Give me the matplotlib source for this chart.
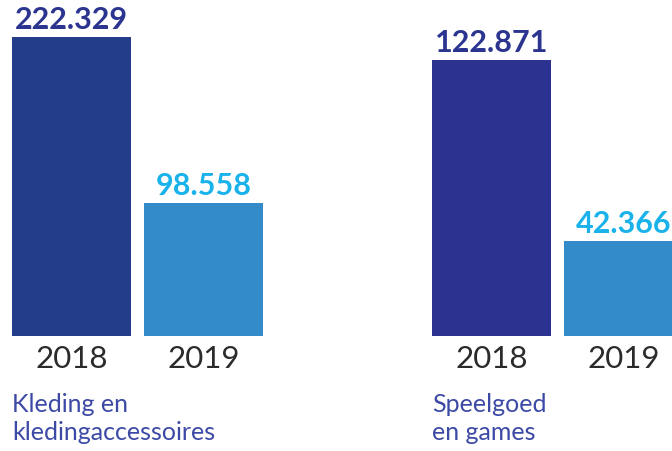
import matplotlib.pyplot as plt

years = ["2018", "2019"]
kleding = [222.329, 98.558]
speelgoed = [122.871, 42.366]
groups = [kleding, speelgoed]
categories = ["Kleding en\nkledingaccessoires", "Speelgoed\nen games"]

bar_colors = [["#243d8a", "#338bca"], ["#2b3290", "#338bca"]]
label_colors = ["#2b3590", "#19b2ea"]

plt.rcParams['font.family'] = ['Lato', 'DejaVu Sans']

W, H = 672, 452
fig = plt.figure(figsize=(W / 100, H / 100), dpi=100)

# axes boxes in pixels: left, bottom-from-top, width, height
boxes = [(12, 337, 251, 299), (432, 337, 251, 276)]

for vals, cat, cols, (x0, yb, w, h) in zip(groups, categories, bar_colors, boxes):
    ax = fig.add_axes([x0 / W, (H - yb) / H, w / W, h / H])
    ax.bar([0, 1], vals, width=119 / 132, color=cols)
    ax.set_xlim(-0.45076, 1.45076)
    ax.set_ylim(0, max(vals))
    for spine in ax.spines.values():
        spine.set_visible(False)
    ax.set_yticks([])
    ax.set_xticks([0, 1])
    ax.set_xticklabels(years, fontsize=22.5, color="#2b2b2b")
    ax.tick_params(axis="x", length=0, pad=6)
    for i, v in enumerate(vals):
        ax.annotate(f"{v:.3f}", (i, v), xytext=(0, 3), textcoords="offset points",
                    ha="center", va="bottom", fontsize=22, fontweight="bold",
                    color=label_colors[i], annotation_clip=False)
    ax.annotate(cat, (0, 0), xycoords="axes fraction", xytext=(0, -40),
                textcoords="offset points", ha="left", va="top",
                fontsize=18, color="#3c4aa6", linespacing=1.3)

fig.savefig("out.png", dpi=100)
